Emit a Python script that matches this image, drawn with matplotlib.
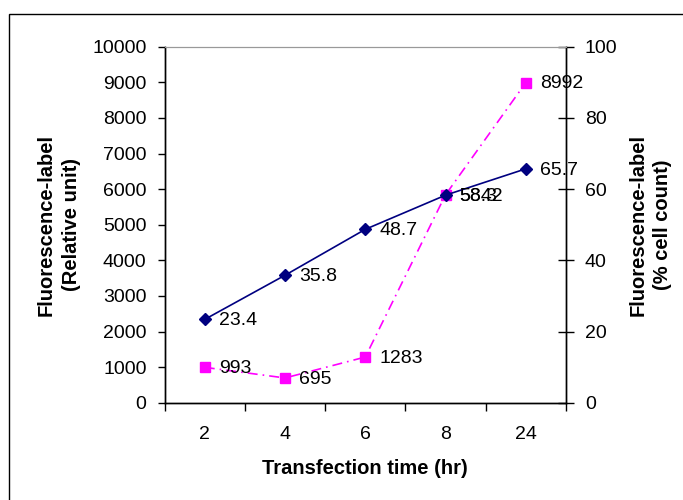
import matplotlib.pyplot as plt
from matplotlib.patches import Rectangle

plt.rcParams['font.family'] = ['Liberation Sans', 'DejaVu Sans']

times = ['2', '4', '6', '8', '24']
fluor_rel = [993, 695, 1283, 5842, 8992]       # relative units, left axis
fluor_pct = [23.4, 35.8, 48.7, 58.3, 65.7]     # % cell count, right axis

x = list(range(len(times)))

fig = plt.figure(figsize=(6.83, 5.0), dpi=100)
# frame around the whole figure
fig.patches.append(Rectangle((8.5 / 683, -0.01), 1.0, 1 - 14 / 500 + 0.01,
                             transform=fig.transFigure, fill=False,
                             edgecolor='black', linewidth=1.0))

ax = fig.add_axes([164.6 / 683, 97.3 / 500, 401.4 / 683, 356 / 500])
ax2 = ax.twinx()

ax.plot(x, fluor_rel, color='#FF00FF', linestyle=(0, (6, 3, 1, 3)), linewidth=1.2,
        marker='s', markersize=6.5, zorder=3)
ax2.plot(x, fluor_pct, color='#000080', linestyle='-', linewidth=1.2,
         marker='D', markersize=6, zorder=3)

for xi, v in zip(x, fluor_rel):
    ax.annotate(str(v), (xi, v), xytext=(10, -1), textcoords='offset points',
                ha='left', va='center', fontsize=14)
for xi, v in zip(x, fluor_pct):
    ax2.annotate(f'{v:.1f}', (xi, v), xytext=(10, -1), textcoords='offset points',
                 ha='left', va='center', fontsize=14)

ax.set_xlim(-0.5, len(times) - 0.5)
ax.set_ylim(0, 10000)
ax2.set_ylim(0, 100)
ax.set_yticks(range(0, 10001, 1000))
ax2.set_yticks(range(0, 101, 20))

ax.set_xticks(x)
ax.set_xticklabels(times, fontsize=14)
ax.set_xticks([i - 0.5 for i in range(len(times) + 1)], minor=True)
ax.tick_params(axis='x', which='major', length=0, pad=17)
ax.tick_params(axis='x', which='minor', length=6, direction='out', width=1)
ax.tick_params(axis='y', length=5, direction='out', labelsize=14, width=1, pad=8)
ax2.tick_params(axis='y', length=11, direction='inout', labelsize=14, width=1, pad=8)

for a in (ax, ax2):
    for side in ('left', 'right', 'bottom'):
        a.spines[side].set_color('black')
        a.spines[side].set_linewidth(1.0)
    a.spines['top'].set_color('#999999')

ax.set_xlabel('Transfection time (hr)', fontsize=14.5, fontweight='bold', labelpad=11)
ax.set_ylabel('Fluorescence-label\n(Relative unit)', fontsize=14.5, fontweight='bold',
              labelpad=8, linespacing=1.4)
ax2.set_ylabel('Fluorescence-label\n(% cell count)', fontsize=14.5, fontweight='bold',
               rotation=90, labelpad=8, linespacing=1.4)

fig.savefig('out.png', dpi=100)
